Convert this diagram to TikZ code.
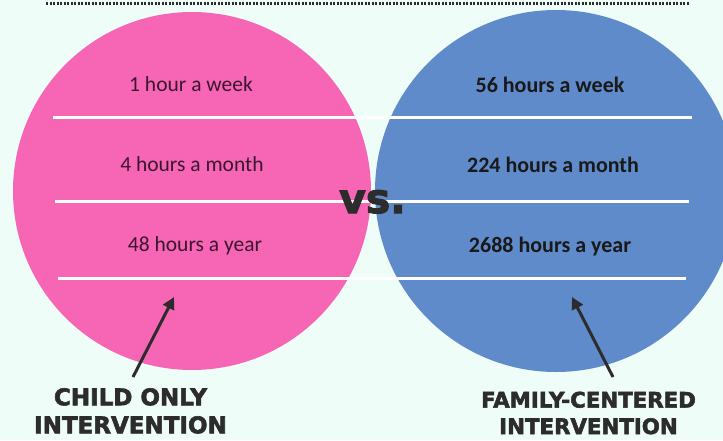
\documentclass[tikz,border=0pt]{standalone}
\usepackage{fontspec}
\setmainfont{Carlito}
\newfontfamily\heavyfont{DejaVu Sans}[UprightFont=* Bold, BoldFont=* Bold, BoldFeatures={FakeBold=2.5}]
\usetikzlibrary{arrows.meta}

\definecolor{bgmint}{HTML}{EFFDF9}
\definecolor{childpink}{HTML}{F766B5}
\definecolor{familyblue}{HTML}{5F8BCB}
\definecolor{inkdark}{HTML}{2C2C2C}
\definecolor{plumtext}{HTML}{3A1632}

\tikzset{
  divider/.style={draw=white, line width=3pt},
  hourleft/.style={anchor=base, text=plumtext, font=\fontsize{21.5}{24}\selectfont},
  hourright/.style={anchor=base, text=black!90, font=\fontsize{22}{24}\selectfont\bfseries},
  groupname/.style={anchor=north, align=center, inner sep=0pt, text=inkdark},
  pointer/.style={draw=inkdark, line width=3pt, -{Triangle[length=12pt,width=12pt]}}
}

\begin{document}
\begin{tikzpicture}[x=1pt, y=-1pt]
	\useasboundingbox[fill=bgmint] (0,0) rectangle (723,440);
	\draw[inkdark, line width=3pt, dash pattern=on 2pt off 1.5pt] (46,3) -- (690,3);
	\fill[childpink] (192,191) circle (179);
	\fill[familyblue] (556,191) circle (181);
	\draw[divider] (53,117) -- (692,117);
	\draw[divider] (55,201) -- (689,201);
	\draw[divider] (58,278) -- (686,278);
	\node[hourleft] (cw) at (191,91) {1 hour a week};
	\node[hourleft] (cm) at (192,171) {4 hours a month};
	\node[hourleft] (cy) at (195,251) {48 hours a year};
	\node[hourright] (fw) at (550,92) {56 hours a week};
	\node[hourright] (fm) at (553,172) {224 hours a month};
	\node[hourright] (fy) at (550,252) {2688 hours a year};
	\node[anchor=base, text=inkdark, font=\heavyfont\fontsize{41}{41}\selectfont\bfseries] (vs) at (372.5,213) {vs.};
	\node[groupname, font=\heavyfont\fontsize{23}{28}\selectfont\bfseries] (childlbl) at (130.5,388) {CHILD ONLY\\INTERVENTION};
	\node[groupname, font=\heavyfont\fontsize{21.3}{26.5}\selectfont\bfseries] (familylbl) at (588.5,391.5) {FAMILY-CENTERED\\INTERVENTION};
	\coordinate (childfoot) at (133,377);
	\coordinate (childtip) at (174,297);
	\coordinate (familyfoot) at (613,377);
	\coordinate (familytip) at (572,297);
	\draw[pointer] (childfoot) -- (childtip);
	\draw[pointer] (familyfoot) -- (familytip);
\end{tikzpicture}
\end{document}
